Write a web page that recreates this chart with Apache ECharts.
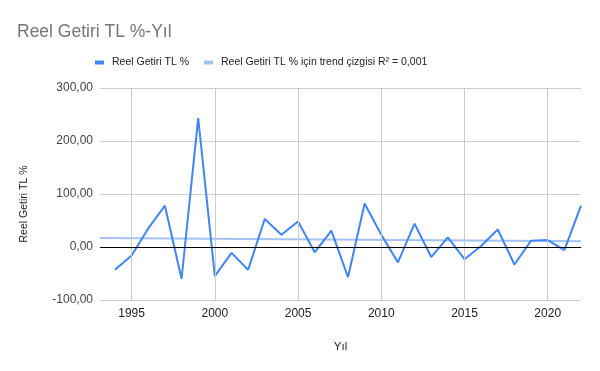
<!DOCTYPE html>
<html>
<head>
<meta charset="utf-8">
<script src="https://cdn.jsdelivr.net/npm/echarts@6/dist/echarts.min.js"></script>
<style>html,body{margin:0;padding:0;background:#fff}#c{width:600px;height:371px}</style>
</head>
<body>
<div id="c"></div>
<script>
var years = [1994,1995,1996,1997,1998,1999,2000,2001,2002,2003,2004,2005,2006,2007,2008,2009,2010,2011,2012,2013,2014,2015,2016,2017,2018,2019,2020,2021,2022];
var values = [-43,-16,35,78,-60,243,-55,-11,-43,53,23,48,-10,31,-57,82,23,-29,44,-19,18,-23,2,33,-33,12,13,-6,78];
var trendYears = [1993.1, 2022];
var trendValues = [17, 10.7];
var xTicks = [1995, 2000, 2005, 2010, 2015, 2020];
var yTicks = [-100, 0, 100, 200, 300];
var titleText = 'Reel Getiri TL %-Yıl';
var seriesName = 'Reel Getiri TL %';
var trendName = 'Reel Getiri TL % için trend çizgisi R² = 0,001';

var chart = echarts.init(document.getElementById('c'), null, {renderer:'canvas'});
var font = 'Liberation Sans, Arial, sans-serif';
chart.setOption({
  animation: false,
  textStyle: {fontFamily: font},
  title: {text: titleText, left: 12, top: 18, textStyle: {fontFamily: font, fontSize: 17.5, fontWeight: 'normal', color: '#757575'}},
  legend: {
    top: 52, left: 90, itemWidth: 9, itemHeight: 4, itemGap: 15,
    icon: 'rect',
    textStyle: {fontFamily: font, fontSize: 10.5, color: '#222', padding: [0,0,0,3]},
    data: [{name: seriesName}, {name: trendName}]
  },
  grid: {left: 100, right: 19, top: 88, bottom: 71, containLabel: false},
  xAxis: {
    type: 'value', min: trendYears[0], max: trendYears[1], splitNumber: 6,
    name: 'Yıl', nameLocation: 'middle', nameGap: 41,
    nameTextStyle: {fontFamily: font, fontSize: 11.5, color: '#222'},
    axisLine: {show: false}, axisTick: {show: false},
    axisLabel: {showMinLabel: false, showMaxLabel: false, color: '#222', fontSize: 12, margin: 8, formatter: function(v){return String(Math.round(v));}},
    splitLine: {show: false}
  },
  yAxis: {
    type: 'value', min: yTicks[0], max: yTicks[yTicks.length-1], interval: 100,
    name: 'Reel Getiri TL %', nameLocation: 'middle', nameGap: 70, nameRotate: 90,
    nameTextStyle: {fontFamily: font, fontSize: 10.5, color: '#222', padding: [0,20,0,0]},
    axisLine: {show: false},
    axisTick: {show: false},
    axisLabel: {color: '#444', fontSize: 12, margin: 7, formatter: function(v){return v.toFixed(2).replace('.', ',');}},
    splitLine: {show: true, lineStyle: {color: '#cccccc', width: 1}}
  },
  series: [
    {
      name: trendName, type: 'line', symbol: 'none', z: 2,
      data: trendYears.map(function(y,i){return [y, trendValues[i]];}),
      lineStyle: {color: '#a4c2f4', width: 2}, itemStyle: {color: '#a4c2f4'},
      markLine: {silent: true, symbol: 'none', label: {show: false}, lineStyle: {color: '#cccccc', width: 1, type: 'solid'},
        data: xTicks.map(function(t){return {xAxis: t};})}
    },
    {
      name: seriesName, type: 'line', symbol: 'none', z: 3,
      data: years.map(function(y,i){return [y, values[i]];}),
      lineStyle: {color: '#4285f4', width: 2}, itemStyle: {color: '#4285f4'},
      markLine: {silent: true, symbol: 'none', label: {show: false}, lineStyle: {color: '#000', width: 1, type: 'solid'}, data: [{yAxis: 0}]}
    }
  ]
});
</script>
</body>
</html>
